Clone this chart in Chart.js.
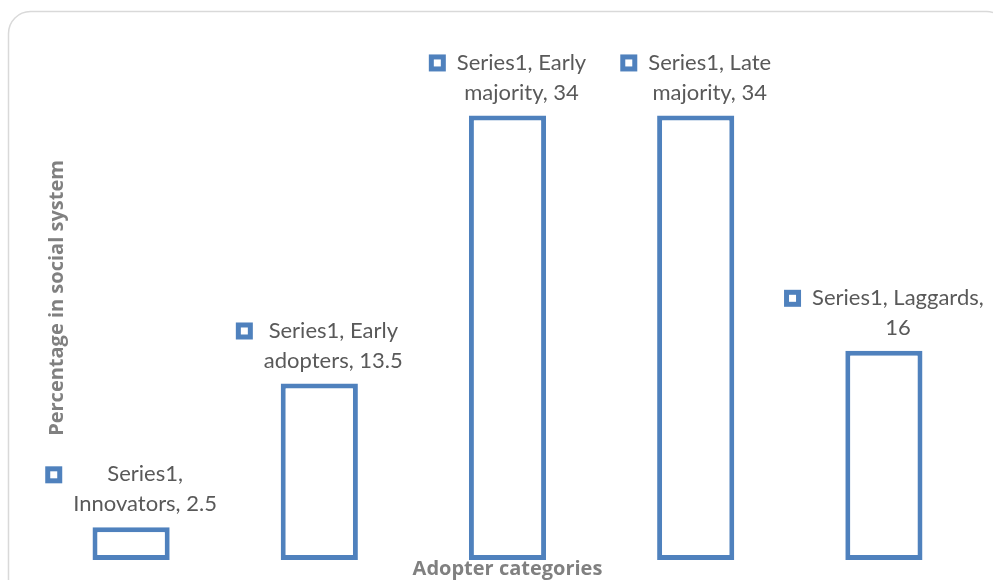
<!DOCTYPE html>
<html>
<head>
<meta charset="utf-8">
<script src="https://cdn.jsdelivr.net/npm/chart.js@4"></script>
<style>
  html, body { margin: 0; padding: 0; background: #fff; }
  #wrap { width: 993px; height: 580px; position: relative; }
</style>
</head>
<body>
<div id="wrap"><canvas id="chart"></canvas></div>
<script>
// Datos del gráfico
const seriesName = 'Series1';
const categories = ['Innovators', 'Early adopters', 'Early majority', 'Late majority', 'Laggards'];
const percentages = [2.5, 13.5, 34, 34, 16];
// Etiquetas tal y como se parten en dos líneas
const labelLines = [
  ['Series1,', 'Innovators, 2.5'],
  ['Series1, Early', 'adopters, 13.5'],
  ['Series1, Early', 'majority, 34'],
  ['Series1, Late', 'majority, 34'],
  ['Series1, Laggards,', '16'],
];
const yMin = 0;
const yMax = 40;

const BLUE = '#4f81bd';
const LABEL_FONT = '22px Lato, "Open Sans", sans-serif';
const TITLE_FONT = 'bold 20px "Open Sans", Lato, sans-serif';

// Marco redondeado, etiquetas con clave de leyenda y títulos de ejes
const decorPlugin = {
  id: 'decor',
  beforeDraw(chart) {
    const ctx = chart.ctx;
    ctx.save();
    ctx.strokeStyle = '#d9d9d9';
    ctx.lineWidth = 1.5;
    ctx.beginPath();
    ctx.roundRect(8.5, 11.5, 1000, 600, 22);
    ctx.stroke();
    ctx.restore();
  },
  afterDatasetsDraw(chart) {
    const ctx = chart.ctx;
    const meta = chart.getDatasetMeta(0);
    ctx.save();
    ctx.font = LABEL_FONT;
    ctx.textBaseline = 'middle';
    ctx.textAlign = 'center';
    meta.data.forEach((bar, i) => {
      const lines = labelLines[i];
      const textW = Math.max(...lines.map((l) => ctx.measureText(l).width));
      const blockW = 17 + 11 + textW;
      const left = bar.x - blockW / 2;
      const line2Y = bar.y - 23;
      const line1Y = line2Y - 30;
      // clave de leyenda
      ctx.fillStyle = BLUE;
      ctx.fillRect(left, line1Y - 8, 17, 17);
      ctx.fillStyle = '#fff';
      ctx.fillRect(left + 5, line1Y - 3, 7, 7);
      ctx.fillStyle = '#595959';
      const cx = left + 28 + textW / 2;
      ctx.fillText(lines[0], cx, line1Y);
      ctx.fillText(lines[1], cx, line2Y);
    });

    const area = chart.chartArea;
    ctx.fillStyle = '#808080';
    ctx.font = TITLE_FONT;
    ctx.fillText('Adopter categories', (area.left + area.right) / 2, 569);
    ctx.translate(57, 298);
    ctx.rotate(-Math.PI / 2);
    ctx.fillText('Percentage in social system', 0, 0);
    ctx.restore();
  },
};

const ctx = document.getElementById('chart').getContext('2d');
new Chart(ctx, {
  type: 'bar',
  data: {
    labels: categories,
    datasets: [
      {
        label: seriesName,
        data: percentages,
        backgroundColor: '#ffffff',
        borderColor: BLUE,
        borderWidth: 5,
        borderSkipped: false,
        barPercentage: 0.41,
        categoryPercentage: 1,
      },
    ],
  },
  options: {
    responsive: true,
    maintainAspectRatio: false,
    animation: false,
    layout: { padding: { left: 37, right: 15, top: 37, bottom: 20 } },
    scales: {
      x: { display: false },
      y: { display: false, min: yMin, max: yMax },
    },
    plugins: {
      legend: { display: false },
      tooltip: { enabled: false },
    },
  },
  plugins: [decorPlugin],
});
</script>
</body>
</html>
